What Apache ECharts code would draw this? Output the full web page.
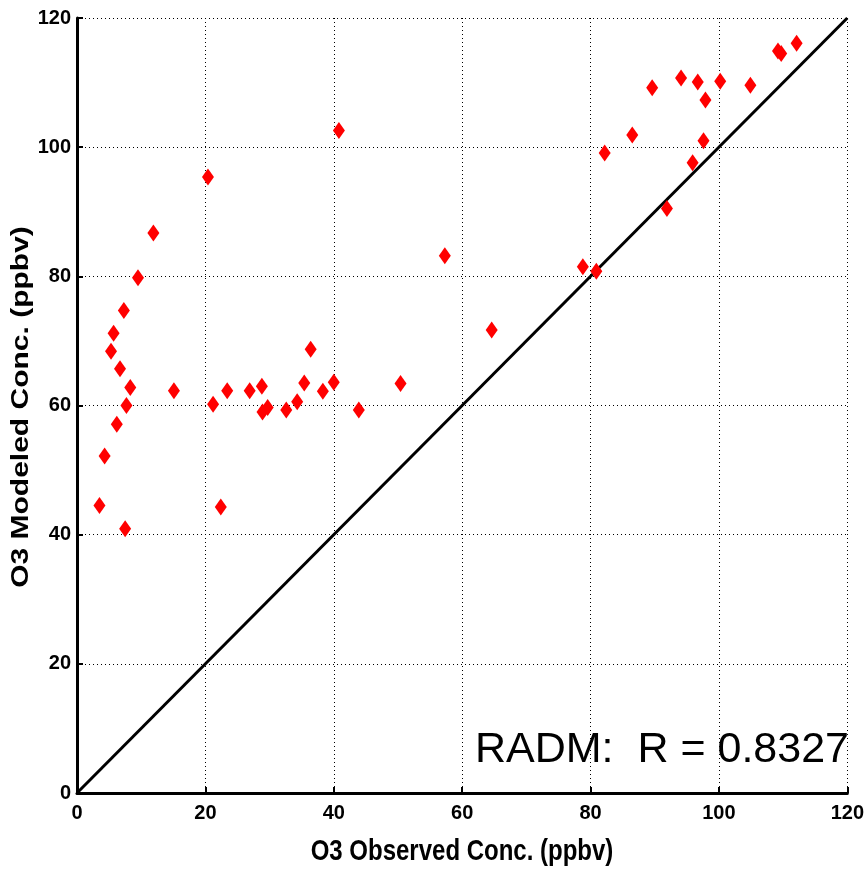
<!DOCTYPE html>
<html>
<head>
<meta charset="utf-8">
<script src="https://cdn.jsdelivr.net/npm/echarts@6/dist/echarts.min.js"></script>
<style>
html,body{margin:0;padding:0;background:#fff;}
#chart{width:867px;height:869px;}
</style>
</head>
<body>
<div id="chart"></div>
<script>
// Observed O3 (ppbv)
var observed = [3.5, 4.3, 5.3, 5.7, 6.2, 6.7, 7.3, 7.5, 7.7, 8.3, 9.5, 11.9, 15.1, 20.4, 21.2, 22.4, 23.4, 26.9, 28.8, 28.9, 29.7, 32.6, 34.3, 35.4, 36.4, 38.3, 40.0, 40.8, 43.9, 50.4, 57.3, 64.6, 78.8, 80.9, 82.2, 86.5, 91.9, 89.6, 94.1, 95.9, 96.7, 97.6, 97.9, 100.2, 104.9, 109.2, 109.7, 112.1];
// Modeled O3 (ppbv)
var modeled = [44.5, 52.2, 68.4, 71.2, 57.1, 65.7, 74.7, 40.9, 60.0, 62.8, 79.8, 86.7, 62.3, 95.4, 60.2, 44.3, 62.3, 62.3, 63.0, 59.0, 59.7, 59.3, 60.6, 63.5, 68.7, 62.2, 63.6, 102.6, 59.3, 63.4, 83.2, 71.7, 81.5, 80.8, 99.1, 101.9, 90.5, 109.2, 110.7, 97.6, 110.1, 101.0, 107.3, 110.2, 109.6, 114.9, 114.5, 116.1];
// 1:1 reference line endpoints
var refLineX = [0, 120];
var refLineY = [0, 120];
var axisTicks = [0, 20, 40, 60, 80, 100, 120];
var xTitle = 'O3 Observed Conc. (ppbv)';
var yTitle = 'O3 Modeled Conc. (ppbv)';
var annotation = 'RADM:  R = 0.8327';

var points = observed.map(function (x, i) { return [x, modeled[i]]; });
var refLine = refLineX.map(function (x, i) { return [x, refLineY[i]]; });

var chart = echarts.init(document.getElementById('chart'), null, {renderer: 'canvas'});
var axisCommon = {
  type: 'value',
  min: axisTicks[0],
  max: axisTicks[axisTicks.length - 1],
  interval: axisTicks[1] - axisTicks[0],
  axisLine: {show: true, onZero: false, lineStyle: {color: '#000', width: 3}},
  axisTick: {show: true, inside: true, length: 6, lineStyle: {color: '#000', width: 2}},
  splitLine: {show: true, lineStyle: {color: '#000', width: 1, type: [1, 3]}},
  axisLabel: {color: '#000', fontFamily: 'Liberation Sans', fontSize: 20, fontWeight: 'bold'}
};
chart.setOption({
  animation: false,
  backgroundColor: '#fff',
  grid: {left: 77, right: 19, top: 18, bottom: 76, containLabel: false},
  xAxis: Object.assign({}, axisCommon, {axisLabel: Object.assign({}, axisCommon.axisLabel, {margin: 10})}),
  yAxis: Object.assign({}, axisCommon, {axisLabel: Object.assign({}, axisCommon.axisLabel, {margin: 6})}),
  series: [
    {
      type: 'line',
      data: refLine,
      symbol: 'none',
      lineStyle: {color: '#000', width: 3},
      z: 2
    },
    {
      type: 'scatter',
      data: points,
      symbol: 'diamond',
      symbolSize: [12, 17],
      itemStyle: {color: '#ff0000', opacity: 1},
      z: 3
    }
  ],
  graphic: [
    {
      type: 'text',
      x: 462, y: 852,
      scaleY: 1.25,
      style: {text: xTitle, font: 'bold 24px "Liberation Sans"', fill: '#000', align: 'center', verticalAlign: 'middle'}
    },
    {
      type: 'text',
      x: 21, y: 407,
      rotation: Math.PI / 2,
      scaleX: 1.25,
      style: {text: yTitle, font: 'bold 24px "Liberation Sans"', fill: '#000', align: 'center', verticalAlign: 'middle'}
    },
    {
      type: 'text',
      x: 475, y: 750,
      style: {text: annotation, font: '43px "Liberation Sans"', fill: '#000', align: 'left', verticalAlign: 'middle'}
    }
  ]
});
</script>
</body>
</html>
